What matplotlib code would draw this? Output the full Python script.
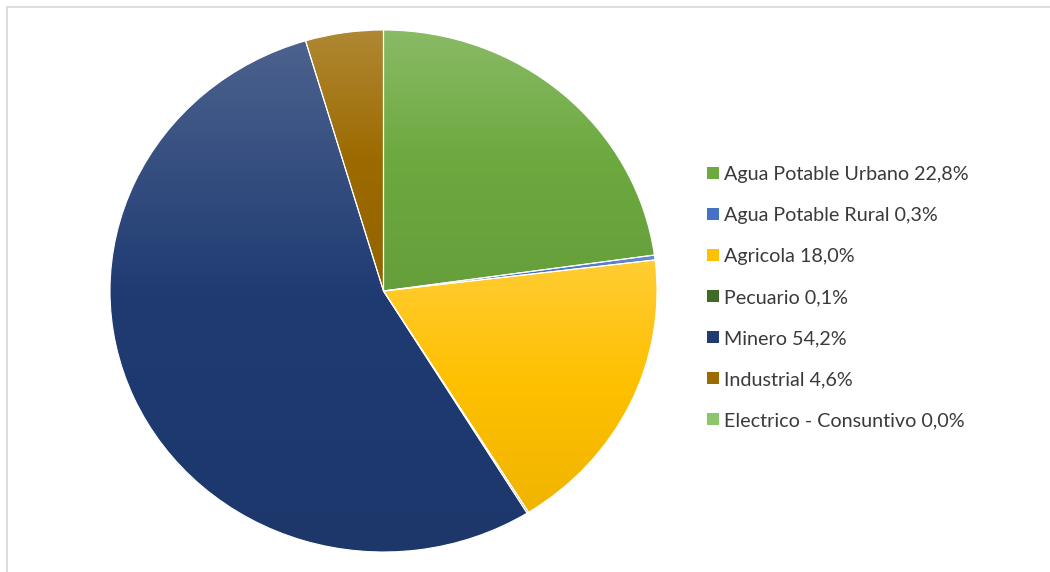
import numpy as np
import matplotlib.pyplot as plt
from matplotlib.colors import LinearSegmentedColormap, to_rgb
from matplotlib.patches import Patch, Rectangle

# Water use shares by sector (%)
sectors = ["Agua Potable Urbano", "Agua Potable Rural", "Agricola", "Pecuario",
           "Minero", "Industrial", "Electrico - Consuntivo"]
shares = [22.8, 0.3, 18.0, 0.1, 54.2, 4.6, 0.0]
colors = ["#6ca93f", "#4472c4", "#ffc000", "#3f6a2a", "#1f3b72", "#9c6a00", "#8cc66c"]

labels = [f"{s} {v:.1f}%".replace(".", ",") for s, v in zip(sectors, shares)]

plt.rcParams['font.family'] = ['Lato', 'DejaVu Sans']

fig = plt.figure(figsize=(10.5, 5.72), dpi=100)
ax = fig.add_axes([110 / 1050, 20 / 572, 547 / 1050, 522 / 572])

wedges, _ = ax.pie(shares, colors=colors, startangle=90, counterclock=False,
                   wedgeprops=dict(edgecolor="white", linewidth=0.8))


def mix(c, other, t):
    c = np.array(to_rgb(c))
    return tuple(c + (np.array(other) - c) * t)


# vertical gradient fill in each slice: lighter on top, slightly darker at the bottom
grad = np.linspace(0, 1, 256).reshape(-1, 1)
for w, c in zip(wedges, colors):
    ext = w.get_path().get_extents()
    if ext.height <= 0:
        continue
    cmap = LinearSegmentedColormap.from_list(
        "g", [(0, mix(c, (0, 0, 0), 0.06)), (0.5, to_rgb(c)), (1, mix(c, (1, 1, 1), 0.2))])
    im = ax.imshow(grad, extent=[ext.x0, ext.x1, ext.y0, ext.y1], origin="lower",
                   cmap=cmap, aspect="auto", zorder=1, interpolation="bilinear")
    im.set_clip_path(w)
    w.set_facecolor("none")
    w.set_zorder(2)

ax.set_aspect("auto")
ax.set_xlim(-1, 1)
ax.set_ylim(-1, 1)
ax.axis("off")

handles = [Patch(facecolor=c, edgecolor="none") for c in colors]
fig.legend(handles, labels, loc="upper left", bbox_to_anchor=(689 / 1050, 1 - 148 / 572),
           frameon=False, fontsize=14.2, labelspacing=1.22, handlelength=0.6,
           handleheight=0.6, handletextpad=0.3, labelcolor="#3a3a3a")

# light grey chart-area border
fig.patches.append(Rectangle((6.5 / 1050, -0.1), 1.2, 1.1 - 6.5 / 572, transform=fig.transFigure,
                             fill=False, edgecolor="#d9dee4", linewidth=1.4))

fig.savefig("out.png", dpi=100)
